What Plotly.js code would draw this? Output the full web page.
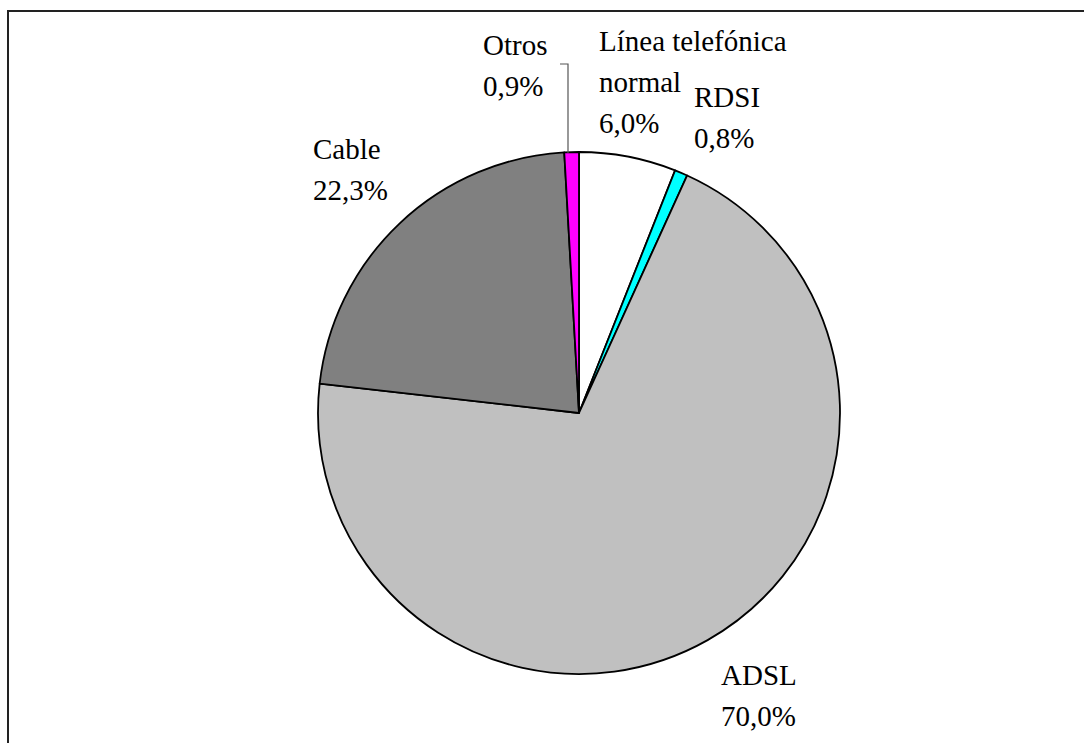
<!DOCTYPE html>
<html>
<head>
<meta charset="utf-8">
<script src="https://cdn.plot.ly/plotly-3.0.1.min.js"></script>
<style>html,body{margin:0;padding:0;background:#fff;}#chart{width:1084px;height:743px;}</style>
</head>
<body>
<div id="chart"></div>
<script>
const categories = ["Línea telefónica normal", "RDSI", "ADSL", "Cable", "Otros"];
const values = [6.0, 0.8, 70.0, 22.3, 0.9];
const colors = ["#FFFFFF", "#00FFFF", "#C0C0C0", "#808080", "#FF00FF"];
const labelLines = [["Línea telefónica", "normal"], ["RDSI"], ["ADSL"], ["Cable"], ["Otros"]];
const percentLabels = values.map(v => v.toFixed(1).replace(".", ",") + "%");

const W = 1084, H = 743;
const px = x => x / W;
const py = y => 1 - y / H;

// label anchor positions in pixels (left edge, centre of first line)
const labelPos = [[597, 41], [692, 97], [719, 675], [311, 149], [481, 45]];
const lineGap = 41;

const annotations = [];
categories.forEach((c, i) => {
  const lines = labelLines[i].concat([percentLabels[i]]);
  lines.forEach((t, j) => {
    annotations.push({
      text: t, xref: "paper", yref: "paper",
      x: px(labelPos[i][0]), y: py(labelPos[i][1] + j * lineGap),
      xanchor: "left", yanchor: "middle", showarrow: false, align: "left",
      font: {family: "Liberation Serif, Liberation Sans, Arial, sans-serif", size: 29, color: "#000"}
    });
  });
});

const cx = 579, cy = 413, r = 261;

const data = [{
  type: "pie",
  labels: categories,
  values: values,
  sort: false,
  direction: "clockwise",
  rotation: 0,
  textinfo: "none",
  marker: {colors: colors, line: {color: "#000", width: 1.8}},
  domain: {x: [px(cx - r), px(cx + r)], y: [py(cy + r), py(cy - r)]},
  showlegend: false
}];

const layout = {
  width: W, height: H,
  margin: {l: 0, r: 0, t: 0, b: 0},
  paper_bgcolor: "#fff",
  showlegend: false,
  annotations: annotations,
  shapes: [
    {type: "rect", xref: "paper", yref: "paper", x0: px(8), x1: px(1100), y0: py(760), y1: py(11),
     line: {color: "#222", width: 2}, fillcolor: "rgba(0,0,0,0)"},
    {type: "path", xref: "paper", yref: "paper",
     path: `M ${px(560)} ${py(64)} L ${px(568)} ${py(64)} L ${px(568)} ${py(153)}`,
     line: {color: "#555", width: 1.2}}
  ]
};

Plotly.newPlot("chart", data, layout, {staticPlot: true});
</script>
</body>
</html>
